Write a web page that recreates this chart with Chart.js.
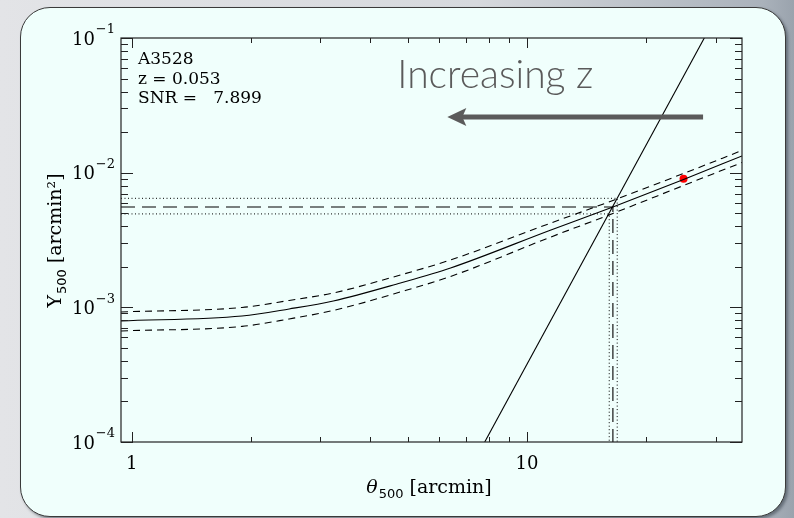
<!DOCTYPE html>
<html>
<head>
<meta charset="utf-8">
<script src="https://cdn.jsdelivr.net/npm/chart.js@4.4.1/dist/chart.umd.min.js"></script>
<style>
  html, body { margin: 0; padding: 0; }
  #bg {
    position: relative; width: 794px; height: 518px; overflow: hidden;
    background: linear-gradient(90deg, #e3e4e7 0%, #d6d9dd 60%, #aab2bb 96%, #9aa3ad 100%);
  }
  #panel {
    position: absolute; left: 20px; top: 7px; width: 764px; height: 508px;
    background: #f0fffc; border: 1.5px solid #3a3a3a; border-radius: 30px;
    box-shadow: 2px 2px 3px rgba(60, 70, 80, 0.6);
  }
  canvas { position: absolute; left: 0; top: 0; }
</style>
</head>
<body>
<div id="bg">
  <div id="panel"></div>
  <canvas id="chart" width="794" height="518"></canvas>
</div>
<script>
// theta_500 sample points [arcmin]
const thetaGrid = [0.94, 1.902, 2.503, 3.237, 4.787, 6.41, 11.5, 16.5, 24.9, 35];
// Y_500(theta) best fit and its upper / lower bounds [arcmin^2]
const yBest = [7.92e-4, 8.63e-4, 9.73e-4, 1.115e-3, 1.517e-3, 1.96e-3, 3.755e-3, 5.56e-3, 8.9e-3, 1.33e-2];
const yUpper = [9.24e-4, 9.98e-4, 1.125e-3, 1.279e-3, 1.739e-3, 2.248e-3, 4.23e-3, 6.22e-3, 9.86e-3, 1.462e-2];
const yLower = [6.68e-4, 7.22e-4, 8.2e-4, 9.48e-4, 1.301e-3, 1.696e-3, 3.33e-3, 4.98e-3, 8.03e-3, 1.19e-2];

// steep scaling relation (theta, Y) end points
const relTheta = [7.82, 28.1];
const relY = [1e-4, 1e-1];

// intersection estimate: [theta, Y] for best, low, high
const crossBest = [16.5, 5.56e-3];
const crossLow = [16.15, 4.94e-3];
const crossHigh = [16.92, 6.45e-3];

// measured point
const cluster = [24.9, 9.0e-3];

const xRange = [0.94, 35];
const yRange = [1e-4, 1e-1];
const xTickValues = [1, 10];
const xTickLabels = ["1", "10"];
const yTickValues = [1e-4, 1e-3, 1e-2, 1e-1];
const yTickExp = ["-4", "-3", "-2", "-1"];

const infoLines = ["A3528", "z = 0.053", "SNR =   7.899"];
const arrowLabel = "Increasing z";
const arrowFrom = [27.9, 0.0259];
const arrowTo = [6.29, 0.0259];
const arrowLabelAt = [4.7, 0.0426];

const serif = "'DejaVu Serif', serif";

const zip = (xs, ys) => xs.map((x, i) => ({ x, y: ys[i] }));

const crossLine = (c) => [
  { x: xRange[0], y: c[1] },
  { x: c[0], y: c[1] },
  { x: c[0], y: yRange[0] },
];

const lineSet = (data, dash, width, smooth) => ({
  data,
  borderColor: "#000",
  borderWidth: width || 1.1,
  borderDash: dash || [],
  pointRadius: 0,
  showLine: true,
  fill: false,
  tension: 0,
  cubicInterpolationMode: smooth ? "monotone" : "default",
});

// inward ticks, frame, tick labels with exponents, annotations
const decor = {
  id: "decor",
  afterDatasetsDraw(chart) {
    const { ctx, chartArea: a, scales } = chart;
    const xs = scales.x, ys = scales.y;
    ctx.save();
    ctx.strokeStyle = "#222";
    ctx.lineWidth = 1.2;
    ctx.strokeRect(a.left, a.top, a.right - a.left, a.bottom - a.top);

    ctx.lineWidth = 1;
    const minorTicks = (min, max, fn) => {
      for (let d = Math.floor(Math.log10(min)); d <= Math.ceil(Math.log10(max)); d++) {
        for (let k = 1; k <= 9; k++) {
          const v = k * Math.pow(10, d);
          if (v < min * 0.999 || v > max * 1.001) continue;
          fn(v, k === 1);
        }
      }
    };
    minorTicks(xs.min, xs.max, (v, major) => {
      const px = Math.round(xs.getPixelForValue(v)) + 0.5;
      const len = major ? 10 : 5;
      ctx.beginPath();
      ctx.moveTo(px, a.bottom); ctx.lineTo(px, a.bottom - len);
      ctx.moveTo(px, a.top); ctx.lineTo(px, a.top + len);
      ctx.stroke();
    });
    minorTicks(ys.min, ys.max, (v, major) => {
      const py = Math.round(ys.getPixelForValue(v)) + 0.5;
      const len = major ? 12 : 7;
      ctx.beginPath();
      ctx.moveTo(a.left, py); ctx.lineTo(a.left + len, py);
      ctx.moveTo(a.right, py); ctx.lineTo(a.right - len, py);
      ctx.stroke();
    });

    // y tick labels: 10 with raised exponent
    ctx.fillStyle = "#000";
    ctx.textBaseline = "middle";
    ctx.textAlign = "right";
    yTickValues.forEach((v, i) => {
      const py = ys.getPixelForValue(v);
      const exp = yTickExp[i].replace("-", "−");
      ctx.font = "13px " + serif;
      const we = ctx.measureText(exp).width;
      const xr = a.left - 6;
      ctx.fillText(exp, xr, py - 8);
      ctx.font = "18px " + serif;
      ctx.fillText("10", xr - we - 1, py + 2);
    });
    ctx.textAlign = "left";
    ctx.textBaseline = "alphabetic";

    // cluster info
    ctx.font = "17px " + serif;
    infoLines.forEach((t, i) => ctx.fillText(t, a.left + 17, a.top + 26 + i * 19.5));

    // arrow with label
    const ax0 = xs.getPixelForValue(arrowFrom[0]), ay = ys.getPixelForValue(arrowFrom[1]);
    const ax1 = xs.getPixelForValue(arrowTo[0]);
    ctx.strokeStyle = "#5b5b5b";
    ctx.fillStyle = "#5b5b5b";
    ctx.lineWidth = 5;
    ctx.beginPath();
    ctx.moveTo(ax0, ay); ctx.lineTo(ax1 + 14, ay);
    ctx.stroke();
    ctx.beginPath();
    ctx.moveTo(ax1, ay);
    ctx.lineTo(ax1 + 19, ay - 9);
    ctx.lineTo(ax1 + 15, ay);
    ctx.lineTo(ax1 + 19, ay + 9);
    ctx.closePath();
    ctx.fill();

    ctx.fillStyle = "#5a5a5a";
    ctx.font = "300 39px Lato, 'Open Sans', sans-serif";
    ctx.fillText(arrowLabel, xs.getPixelForValue(arrowLabelAt[0]), ys.getPixelForValue(arrowLabelAt[1]));

    // axis titles
    const withSub = (base, sub, rest, cx, cy, italic) => {
      const f1 = (italic ? "italic " : "") + "19px " + serif;
      const f2 = "13px 'DejaVu Sans', sans-serif";
      const f3 = "19px " + serif;
      ctx.font = f1; const w1 = ctx.measureText(base).width;
      ctx.font = f2; const w2 = ctx.measureText(sub).width;
      ctx.font = f3; const w3 = ctx.measureText(rest).width;
      let x = cx - (w1 + w2 + w3) / 2;
      ctx.font = f1; ctx.fillText(base, x, cy); x += w1;
      ctx.font = f2; ctx.fillText(sub, x + 1, cy + 5); x += w2 + 1;
      ctx.font = f3; ctx.fillText(rest, x, cy);
    };
    ctx.fillStyle = "#000";
    withSub("θ", "500", " [arcmin]", (a.left + a.right) / 2 - 3, a.bottom + 51, true);
    ctx.translate(61, (a.top + a.bottom) / 2 + 1);
    ctx.rotate(-Math.PI / 2);
    withSub("Y", "500", " [arcmin²]", 0, 0, false);
    ctx.restore();
  },
};

new Chart(document.getElementById("chart"), {
  type: "scatter",
  data: {
    datasets: [
      lineSet(zip(thetaGrid, yBest), null, null, true),
      lineSet(zip(thetaGrid, yUpper), [7, 5], null, true),
      lineSet(zip(thetaGrid, yLower), [7, 5], null, true),
      lineSet(zip(relTheta, relY)),
      lineSet(crossLine(crossBest), [14, 7]),
      lineSet(crossLine(crossLow), [1, 2.5], 1),
      lineSet(crossLine(crossHigh), [1, 2.5], 1),
      {
        data: [{ x: cluster[0], y: cluster[1] }],
        pointRadius: 4,
        pointBackgroundColor: "#ff0000",
        pointBorderWidth: 0,
        showLine: false,
      },
    ],
  },
  options: {
    responsive: false,
    animation: false,
    layout: { padding: { left: 0, right: 52, top: 38, bottom: 0 } },
    plugins: { legend: { display: false }, tooltip: { enabled: false } },
    scales: {
      x: {
        type: "logarithmic",
        min: xRange[0],
        max: xRange[1],
        grid: { display: false, drawTicks: false },
        border: { display: false },
        afterBuildTicks: (s) => { s.ticks = xTickValues.map((v) => ({ value: v })); },
        afterFit: (s) => { s.height = 76; },
        ticks: {
          padding: 12,
          color: "#000",
          font: { family: "DejaVu Serif", size: 18 },
          maxRotation: 0,
          callback: (v) => xTickLabels[xTickValues.indexOf(v)],
        },
      },
      y: {
        type: "logarithmic",
        min: yRange[0],
        max: yRange[1],
        grid: { display: false, drawTicks: false },
        border: { display: false },
        afterBuildTicks: (s) => { s.ticks = yTickValues.map((v) => ({ value: v })); },
        afterFit: (s) => { s.width = 121; },
        ticks: { display: false },
      },
    },
  },
  plugins: [decor],
});
</script>
</body>
</html>
